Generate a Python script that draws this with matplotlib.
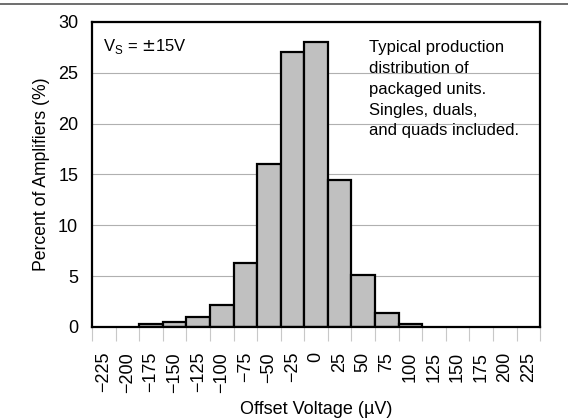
import numpy as np
import matplotlib.pyplot as plt
from matplotlib.lines import Line2D
from matplotlib.patches import Rectangle

plt.rcParams['font.family'] = ['Liberation Sans', 'DejaVu Sans']

offsets = [-225, -200, -175, -150, -125, -100, -75, -50, -25, 0,
           25, 50, 75, 100, 125, 150, 175, 200, 225]
percent = [0, 0, 0.3, 0.5, 1.0, 2.2, 6.3, 16.0, 27.0, 28.0,
           14.5, 5.1, 1.4, 0.3, 0, 0, 0, 0, 0]
tick_labels = ['\u2212' + str(-v) if v < 0 else str(v) for v in offsets]

fig = plt.figure(figsize=(5.68, 4.19), dpi=100)
ax = fig.add_axes([0.162, 0.2196, 0.789, 0.728])

pos = np.arange(len(offsets))
heights = np.array(percent)
mask = heights > 0
ax.bar(pos[mask], heights[mask], width=1.0, color='#c0c0c0',
       edgecolor='black', linewidth=1.6, zorder=3)

ax.set_xlim(-0.5, len(offsets) - 0.5)
ax.set_ylim(0, 30)
ax.set_yticks(range(0, 31, 5))
ax.set_xticks(pos)
ax.set_xticklabels(tick_labels, rotation=90, fontsize=13)
ax.set_xticks(np.arange(-0.5, len(offsets)), minor=True)
ax.tick_params(axis='x', which='major', length=0, pad=18)
ax.tick_params(axis='x', which='minor', length=10, width=0.8, color='#c8c8c8')
ax.tick_params(axis='y', length=0, labelsize=13, pad=10)
ax.grid(axis='y', color='#b0b0b0', linewidth=0.8, zorder=0)
for s in ax.spines.values():
    s.set_linewidth(1.6)
    s.set_zorder(4)

ax.set_xlabel('Offset Voltage (\u00b5V)', fontsize=13, labelpad=6)
ax.set_ylabel('Percent of Amplifiers (%)', fontsize=12.7, labelpad=6)

ax.text(0.025, 0.918, r'V$_\mathregular{S}$ = $\pm$15V', transform=ax.transAxes,
        fontsize=12, va='center', ha='left', zorder=5)

# white panel behind the note so gridlines stop around it
ax.add_patch(Rectangle((0.598, 0.595), 0.3685, 0.38, transform=ax.transAxes,
                       facecolor='white', edgecolor='none', zorder=1))
ax.text(0.617, 0.941, 'Typical production\ndistribution of\npackaged units.\n'
        'Singles, duals,\nand quads included.',
        transform=ax.transAxes, fontsize=12, va='top', ha='left',
        linespacing=1.49, zorder=5)

fig.add_artist(Line2D([0, 1], [0.99, 0.99], transform=fig.transFigure,
                      color='#555555', linewidth=1.2))

fig.savefig('out.png', dpi=100)
